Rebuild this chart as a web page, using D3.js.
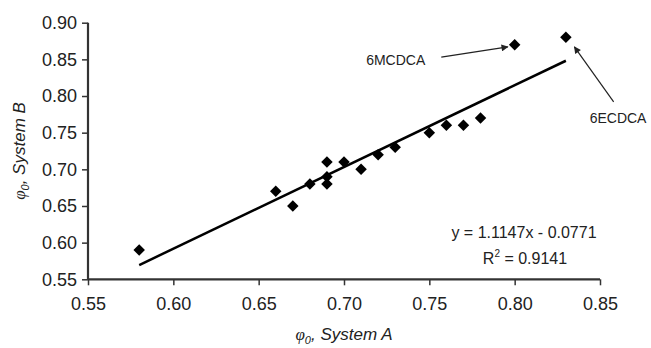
<!DOCTYPE html>
<html>
<head>
<meta charset="utf-8">
<script src="https://cdn.jsdelivr.net/npm/d3@7"></script>
<style>
  body { margin: 0; background: #fff; }
  svg { display: block; }
  .axis path, .axis line { stroke: #333; }
  .axis text { fill: #222; font-family: "Liberation Sans", Arial, sans-serif; }
</style>
</head>
<body>
<div id="chart"></div>
<script>
// values
const systemA = [0.58, 0.66, 0.67, 0.68, 0.69, 0.69, 0.69, 0.70, 0.71, 0.72, 0.73, 0.75, 0.76, 0.77, 0.78, 0.80, 0.83];
const systemB = [0.59, 0.67, 0.65, 0.68, 0.71, 0.69, 0.68, 0.71, 0.70, 0.72, 0.73, 0.75, 0.76, 0.76, 0.77, 0.87, 0.88];
const xTicks = [0.55, 0.60, 0.65, 0.70, 0.75, 0.80, 0.85];
const yTicks = [0.55, 0.60, 0.65, 0.70, 0.75, 0.80, 0.85, 0.90];
const slope = 1.1147, intercept = -0.0771, r2 = 0.9141;
const labels = ["6MCDCA", "6ECDCA"];
const arrowFrom = [[0.757, 0.853], [0.858, 0.792]];
const arrowTo = [[0.796, 0.867], [0.835, 0.867]];

const width = 651, height = 348;

let svg = d3.select("#chart").append("svg")
  .attr("width", width)
  .attr("height", height);

let x = d3.scaleLinear().domain([0.55, 0.85]).range([88, 600]);
let y = d3.scaleLinear().domain([0.55, 0.90]).range([279.3, 22.7]);

let xAxis = d3.axisBottom(x).tickValues(xTicks).tickFormat(d3.format(".2f")).tickSize(6).tickPadding(12);
let yAxis = d3.axisLeft(y).tickValues(yTicks).tickFormat(d3.format(".2f")).tickSize(6).tickPadding(5);

let gx = svg.append("g")
  .attr("class", "axis")
  .attr("transform", "translate(0," + y(0.55) + ")")
  .call(xAxis);
gx.select(".domain").attr("d", "M" + x(0.55) + ",0H" + x(0.85)).attr("stroke-width", 2.2);
gx.selectAll("line").attr("stroke-width", 1.5);
gx.selectAll("text").attr("font-size", 18);

let gy = svg.append("g")
  .attr("class", "axis")
  .attr("transform", "translate(" + x(0.55) + ",0)")
  .call(yAxis);
gy.select(".domain").attr("d", "M0," + y(0.55) + "V" + y(0.90)).attr("stroke-width", 2.2);
gy.selectAll("line").attr("stroke-width", 1.5);
gy.selectAll("text").attr("font-size", 18);

// trend line
let line = d3.line().x(d => x(d)).y(d => y(slope * d + intercept));
svg.append("path")
  .attr("d", line(d3.extent(systemA)))
  .attr("fill", "none")
  .attr("stroke", "#000")
  .attr("stroke-width", 2.5);

// points
let diamond = d3.symbol().type(d3.symbolSquare).size(66);
svg.append("g").selectAll("path")
  .data(systemA)
  .enter().append("path")
  .attr("d", diamond)
  .attr("fill", "#000")
  .attr("transform", (d, i) => "translate(" + x(d) + "," + y(systemB[i]) + ") rotate(45)");

// arrows and labels
svg.append("defs").append("marker")
  .attr("id", "head")
  .attr("viewBox", "0 0 10 10")
  .attr("refX", 9).attr("refY", 5)
  .attr("markerWidth", 9).attr("markerHeight", 7)
  .attr("markerUnits", "userSpaceOnUse")
  .attr("orient", "auto")
  .append("path")
  .attr("d", "M0,0L10,5L0,10Z")
  .attr("fill", "#222");

labels.forEach((lab, i) => {
  let x0 = x(arrowFrom[i][0]), y0 = y(arrowFrom[i][1]);
  svg.append("line")
    .attr("x1", x0).attr("y1", y0)
    .attr("x2", x(arrowTo[i][0])).attr("y2", y(arrowTo[i][1]))
    .attr("stroke", "#222")
    .attr("stroke-width", 1.2)
    .attr("marker-end", "url(#head)");
  svg.append("text")
    .attr("x", i == 0 ? x0 - 16 : x0 - 24)
    .attr("y", i == 0 ? y0 + 8 : y0 + 21)
    .attr("text-anchor", i == 0 ? "end" : "start")
    .attr("font-family", "Liberation Sans, Arial, sans-serif")
    .attr("font-size", 14)
    .attr("fill", "#222")
    .text(lab);
});

// regression label
let eq = svg.append("g")
  .attr("font-family", "Liberation Sans, Arial, sans-serif")
  .attr("font-size", 16)
  .attr("fill", "#222")
  .attr("text-anchor", "middle");
eq.append("text")
  .attr("x", 524).attr("y", 238)
  .text("y = " + slope + "x - " + Math.abs(intercept));
let r = eq.append("text").attr("x", 525).attr("y", 264);
r.append("tspan").text("R");
r.append("tspan").attr("font-size", 10).attr("dy", -7).text("2");
r.append("tspan").attr("dy", 7).text(" = " + r2);

// axis titles
function title(t, letter) {
  t.attr("font-family", "Liberation Sans, Arial, sans-serif")
    .attr("font-size", 17)
    .attr("font-style", "italic")
    .attr("fill", "#222")
    .attr("text-anchor", "middle");
  t.append("tspan").attr("font-family", "Liberation Serif, serif").text("φ");
  t.append("tspan").attr("font-size", 11).attr("dy", 4).text("0");
  t.append("tspan").attr("dy", -4).text(", System " + letter);
}
title(svg.append("text").attr("x", (x(0.55) + x(0.85)) / 2).attr("y", 340), "A");
title(svg.append("text")
  .attr("transform", "translate(25," + (y(0.55) + y(0.90)) / 2 + ") rotate(-90)"), "B");
</script>
</body>
</html>
